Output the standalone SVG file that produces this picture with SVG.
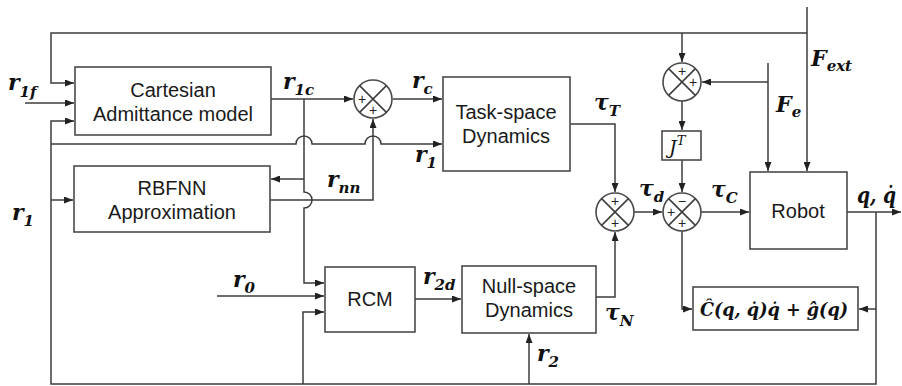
<svg xmlns="http://www.w3.org/2000/svg" width="902" height="386" viewBox="0 0 902 386">
<style>
.box{fill:#fff;stroke:#4a4a4a;stroke-width:1.6}
.ln{fill:none;stroke:#3c3c3c;stroke-width:1.5}
.arw{fill:none;stroke:#3c3c3c;stroke-width:1.5;marker-end:url(#ah)}
.t{font-family:"Liberation Sans",Arial,sans-serif;font-size:20px;fill:#1a1a1a;text-anchor:middle}
.m{font-family:"DejaVu Serif","Liberation Serif",serif;font-size:22px;font-weight:bold;font-style:italic;fill:#111}
.s{font-size:15px}
.sg{font-family:"Liberation Sans",Arial,sans-serif;font-size:14px;fill:#222;text-anchor:middle}
.sum{fill:#fff;stroke:#4a4a4a;stroke-width:1.6}
</style>
<defs>
<marker id="ah" markerUnits="userSpaceOnUse" markerWidth="9" markerHeight="7" refX="9" refY="3.5" orient="auto">
<path d="M0,0 L9,3.5 L0,7 z" fill="#222"/>
</marker>
</defs>

<g id="connectors">
<path class="arw" d="M807,33 H51 V83 H74"/>
<path class="arw" d="M807,7 V171"/>
<path class="arw" d="M682,33 V62"/>
<path class="arw" d="M768,63 V171"/>
<path class="arw" d="M768,82 H702"/>
<path class="arw" d="M682,101 V130"/>
<path class="arw" d="M682,160 V192"/>
<path class="arw" d="M25,103 H74"/>
<path class="arw" d="M876,212 V384 H51 V121 H74"/>
<path class="arw" d="M51,144 H296 a8,8 0 0 1 16,0 H365 a8,8 0 0 1 16,0 H442"/>
<path class="arw" d="M51,200 H73"/>
<path class="arw" d="M271,99 H353"/>
<path class="arw" d="M304,179 H271"/>
<path class="arw" d="M304,99 V192 a8,8 0 0 1 0,16 V283 H324"/>
<path class="arw" d="M270,200 H373 V119"/>
<path class="arw" d="M393,99 H442"/>
<path class="arw" d="M570,124 H615 V192"/>
<path class="arw" d="M596,297 H615 V232"/>
<path class="arw" d="M634,212 H662"/>
<path class="arw" d="M701,212 H749"/>
<path class="arw" d="M847,212 H901"/>
<path class="arw" d="M682,231 V309 H692"/>
<path class="arw" d="M876,309 H859"/>
<path class="arw" d="M217,296 H324"/>
<path class="arw" d="M303,384 V312 H324"/>
<path class="arw" d="M415,299 H461"/>
<path class="arw" d="M529,384 V334"/>
</g>

<g id="cartesian">
<rect class="box" x="75" y="67" width="196" height="68"/>
<text class="t" x="173" y="97">Cartesian</text>
<text class="t" x="173" y="121">Admittance model</text>
</g>
<g id="rbfnn">
<rect class="box" x="74" y="166" width="196" height="66"/>
<text class="t" x="172" y="195">RBFNN</text>
<text class="t" x="172" y="219">Approximation</text>
</g>
<g id="taskspace">
<rect class="box" x="443" y="77" width="127" height="94"/>
<text class="t" x="506" y="119">Task-space</text>
<text class="t" x="506" y="143">Dynamics</text>
</g>
<g id="rcm">
<rect class="box" x="325" y="267" width="90" height="65"/>
<text class="t" x="370" y="306">RCM</text>
</g>
<g id="nullspace">
<rect class="box" x="462" y="266" width="134" height="67"/>
<text class="t" x="529" y="293">Null-space</text>
<text class="t" x="529" y="317">Dynamics</text>
</g>
<g id="jt">
<rect class="box" x="662" y="131" width="39" height="29"/>
<text class="m" x="669" y="154" style="font-size:19px;font-weight:normal">J<tspan style="font-size:13px" dy="-9">T</tspan></text>
</g>
<g id="robot">
<rect class="box" x="750" y="172" width="97" height="77"/>
<text class="t" x="798" y="218">Robot</text>
</g>
<g id="compensation">
<rect class="box" x="693" y="287" width="165" height="43"/>
<text class="m" x="700" y="316" style="font-size:19px" textLength="148" lengthAdjust="spacingAndGlyphs">Ĉ(q, q̇)q̇ + ĝ(q)</text>
</g>

<g id="sum_rc">
<circle class="sum" cx="373" cy="99" r="19"/>
<path class="ln" d="M359.6,85.6 L386.4,112.4 M386.4,85.6 L359.6,112.4"/>
<text class="sg" x="362" y="104">+</text>
<text class="sg" x="373" y="115">+</text>
</g>
<g id="sum_taud">
<circle class="sum" cx="615" cy="212" r="19"/>
<path class="ln" d="M601.6,198.6 L628.4,225.4 M628.4,198.6 L601.6,225.4"/>
<text class="sg" x="615" y="206">+</text>
<text class="sg" x="615" y="228">+</text>
</g>
<g id="sum_tauc">
<circle class="sum" cx="682" cy="212" r="19"/>
<path class="ln" d="M668.6,198.6 L695.4,225.4 M695.4,198.6 L668.6,225.4"/>
<text class="sg" x="682" y="206">−</text>
<text class="sg" x="671" y="217">+</text>
<text class="sg" x="682" y="228">+</text>
</g>
<g id="sum_force">
<circle class="sum" cx="682" cy="82" r="19"/>
<path class="ln" d="M668.6,68.6 L695.4,95.4 M695.4,68.6 L668.6,95.4"/>
<text class="sg" x="682" y="76">+</text>
<text class="sg" x="693" y="87">+</text>
</g>

<g id="labels">
<text class="m" x="8" y="90">r<tspan class="s" dy="7">1f</tspan></text>
<text class="m" x="283" y="89">r<tspan class="s" dy="6">1c</tspan></text>
<text class="m" x="412" y="88">r<tspan class="s" dy="6">c</tspan></text>
<text class="m" x="415" y="162">r<tspan class="s" dy="6">1</tspan></text>
<text class="m" x="327" y="187">r<tspan class="s" dy="6">nn</tspan></text>
<text class="m" x="12" y="220">r<tspan class="s" dy="6">1</tspan></text>
<text class="m" x="233" y="287">r<tspan class="s" dy="6">0</tspan></text>
<text class="m" x="423" y="284">r<tspan class="s" dy="6">2d</tspan></text>
<text class="m" x="537" y="361">r<tspan class="s" dy="6">2</tspan></text>
<text class="m" x="594" y="110">τ<tspan class="s" dy="6">T</tspan></text>
<text class="m" x="639" y="196">τ<tspan class="s" dy="6">d</tspan></text>
<text class="m" x="711" y="197">τ<tspan class="s" dy="6">C</tspan></text>
<text class="m" x="605" y="320">τ<tspan class="s" dy="6">N</tspan></text>
<text class="m" x="811" y="66">F<tspan class="s" dy="5">ext</tspan></text>
<text class="m" x="776" y="112">F<tspan class="s" dy="5">e</tspan></text>
<text class="m" x="857" y="203" textLength="39" lengthAdjust="spacingAndGlyphs">q, q̇</text>
</g>
</svg>
